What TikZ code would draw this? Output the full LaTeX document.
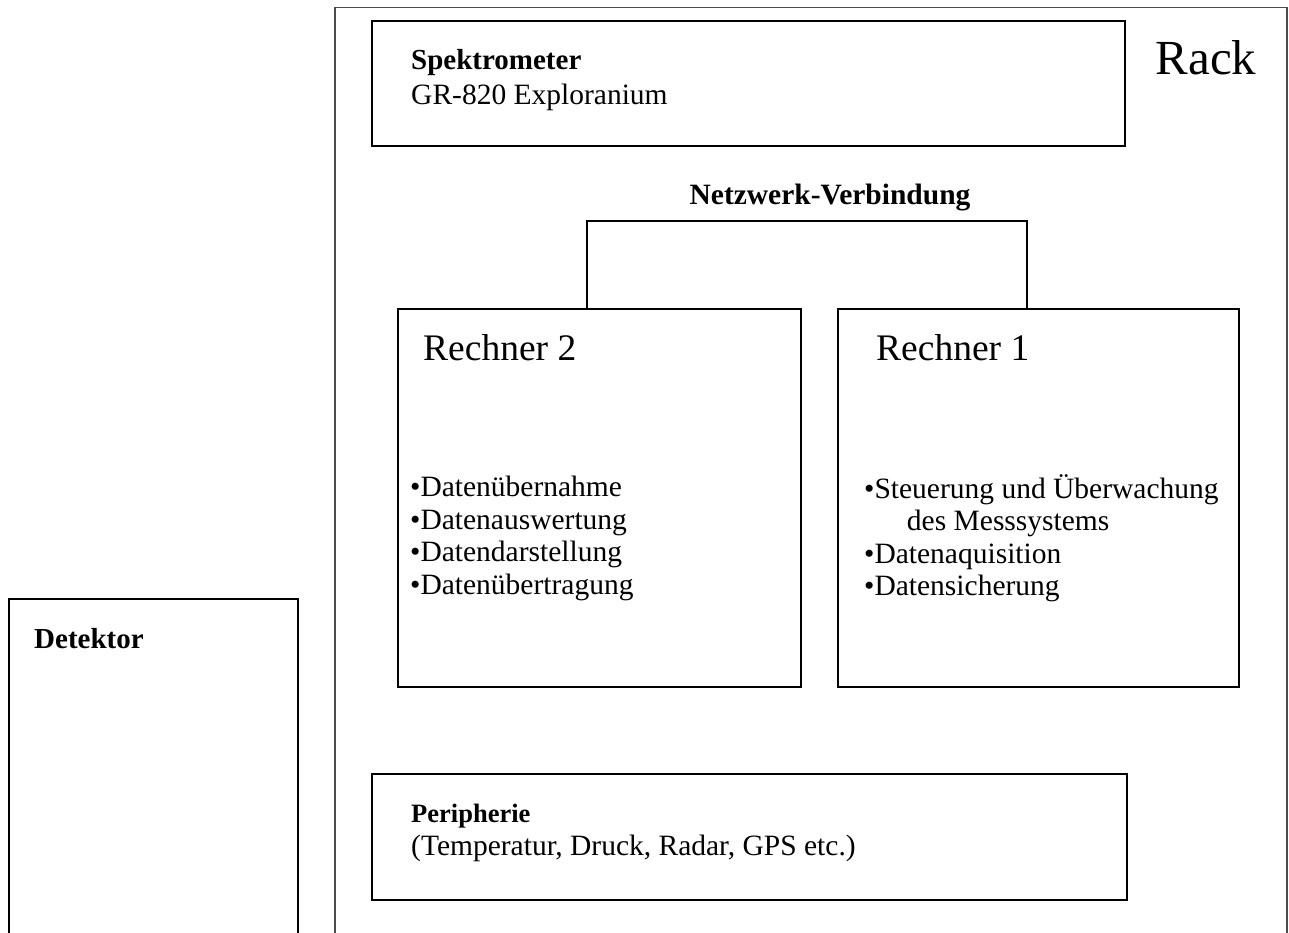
\documentclass[tikz,border=0pt]{standalone}
\usepackage{fontspec}
\setmainfont{Liberation Serif}
\usetikzlibrary{positioning,calc}
\tikzset{
  unit/.style={draw=black,line width=1.6pt,inner sep=0pt,anchor=north west},
  rackbox/.style={draw=black!70,line width=1.5pt,inner sep=0pt,anchor=north west},
  title/.style={font=\fontsize{29}{33}\selectfont\bfseries,inner sep=0pt,anchor=base west},
  body/.style={font=\fontsize{29.5}{32.5}\selectfont,inner sep=0pt,anchor=base west,align=left},
  list/.style={font=\fontsize{29.5}{32.5}\selectfont,inner sep=0pt,anchor=north west,align=left},
  big/.style={font=\fontsize{37.5}{45}\selectfont,inner sep=0pt,anchor=base west},
  link/.style={line width=1.6pt}
}

\begin{document}
\begin{tikzpicture}[x=1pt,y=-1pt]
  \useasboundingbox (0,0) rectangle (1289,933);
  \clip (0,0) rectangle (1289,933);
  % boxes
  \node[rackbox,minimum width=952pt,minimum height=980pt] (rack) at (334,7) {};
  \node[unit,minimum width=753pt,minimum height=125pt] (spek) at (371,20) {};
  \node[unit,minimum width=403pt,minimum height=378pt] (r2) at (397,308) {};
  \node[unit,minimum width=401pt,minimum height=378pt] (r1) at (837,308) {};
  \node[unit,minimum width=755pt,minimum height=126pt] (peri) at (371,773) {};
  \node[unit,minimum width=289pt,minimum height=400pt] (det) at (8,598) {};
  % texts
  \node[big,font=\fontsize{49}{56}\selectfont] (racklabel) at ([xshift=-132pt,yshift=-68pt]rack.north east) {Rack};
  \node[title] (spektitle) at ([xshift=40pt,yshift=-50pt]spek.north west) {Spektrometer};
  \node[body] (spekmodel) at ([yshift=-35pt]spektitle.base west) {GR-820 Exploranium};
  \node[big] (r2title) at ([xshift=26pt,yshift=-52pt]r2.north west) {Rechner 2};
  \node[list] (r2list) at ([xshift=13pt,yshift=-168pt]r2.north west)
    {•Datenübernahme\\•Datenauswertung\\•Datendarstellung\\•Datenübertragung};
  \node[big] (r1title) at ([xshift=39pt,yshift=-52pt]r1.north west) {Rechner 1};
  \node[list] (r1list) at ([xshift=27pt,yshift=-166pt]r1.north west)
    {•Steuerung und Überwachung\\\hspace*{1.45em}des Messsystems\\•Datenaquisition\\•Datensicherung};
  \node[title,font=\fontsize{26.5}{32}\selectfont\bfseries] (perititle) at ([xshift=40pt,yshift=-49pt]peri.north west) {Peripherie};
  \node[body] (peritext) at ([yshift=-33pt]perititle.base west) {(Temperatur, Druck, Radar, GPS etc.)};
  \node[title] (dettitle) at ([xshift=26pt,yshift=-50pt]det.north west) {Detektor};
  % network
  \coordinate (bus) at (806,221);
  \node[title,anchor=base,font=\fontsize{29.5}{33}\selectfont\bfseries] (netz) at ([xshift=24pt,yshift=16pt]bus) {Netzwerk-Verbindung};
  \draw[link] ([xshift=-12.5pt]r2.north) |- (bus) -| ([xshift=-11.5pt]r1.north);
\end{tikzpicture}
\end{document}
